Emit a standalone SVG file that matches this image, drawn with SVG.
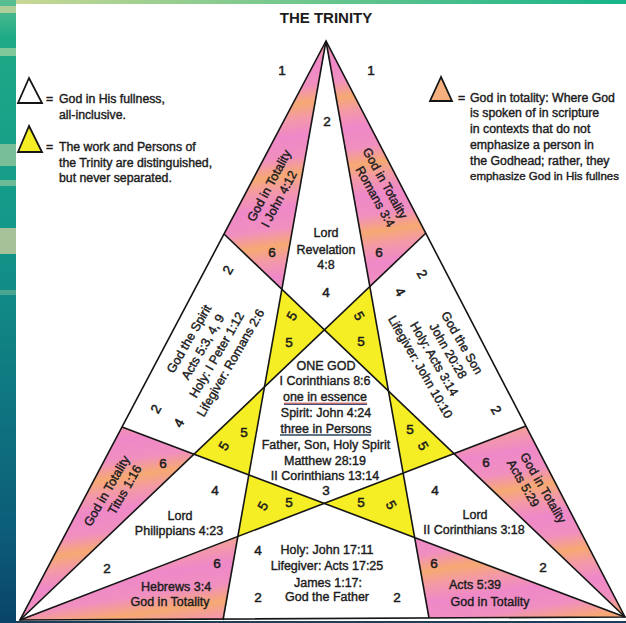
<svg xmlns="http://www.w3.org/2000/svg" width="626" height="623" viewBox="0 0 626 623">
<defs>
<linearGradient id="pinkGrad" gradientUnits="userSpaceOnUse" x1="0" y1="40" x2="10" y2="108" spreadMethod="repeat">
<stop offset="0" stop-color="#ef88c8"/>
<stop offset="0.3" stop-color="#f08fc0"/>
<stop offset="0.55" stop-color="#f6a972"/>
<stop offset="0.75" stop-color="#f39aa6"/>
<stop offset="1" stop-color="#ef88c8"/>
</linearGradient>
<linearGradient id="bgLeft" x1="0" y1="0" x2="0" y2="1">
<stop offset="0" stop-color="#5cbf93"/>
<stop offset="0.06" stop-color="#1faa86"/>
<stop offset="0.35" stop-color="#14998a"/>
<stop offset="0.6" stop-color="#0f7b82"/>
<stop offset="0.85" stop-color="#0c5d78"/>
<stop offset="1" stop-color="#0a4468"/>
</linearGradient>
<linearGradient id="bgTop" x1="0" y1="0" x2="1" y2="0">
<stop offset="0" stop-color="#c9d894"/>
<stop offset="0.4" stop-color="#7cc98e"/>
<stop offset="1" stop-color="#16b48a"/>
</linearGradient>
</defs>
<style>
.pink{fill:url(#pinkGrad)}
.yel{fill:#f6ee24}
.wht{fill:#ffffff}
.ln{stroke:#151515;stroke-width:1.6;fill:none;stroke-linejoin:miter}
.leg{stroke:#151515;stroke-width:1.8;stroke-linejoin:miter}
text{font-family:"Liberation Sans",Arial,Helvetica,sans-serif;fill:#1c1c1c;dominant-baseline:central}
.t{font-size:12.5px;text-anchor:middle;stroke:#1c1c1c;stroke-width:0.4}
.n{font-size:13.5px;text-anchor:middle;stroke:#1c1c1c;stroke-width:0.5}
.lg{font-size:12.3px;text-anchor:start;stroke:#1c1c1c;stroke-width:0.4}
.ttl{font-size:15px;font-weight:bold;text-anchor:middle}
</style>

<!-- background -->
<rect x="0" y="0" width="626" height="623" fill="#ffffff"/>
<rect x="0" y="0" width="16" height="623" fill="url(#bgLeft)"/>
<rect x="0" y="6" width="16" height="7" fill="#c8d49a" opacity="0.8"/>
<rect x="0" y="48" width="16" height="8" fill="#a9d6a2" opacity="0.7"/>
<rect x="0" y="144" width="16" height="22" fill="#b9d6a4" opacity="0.6"/>
<rect x="0" y="180" width="16" height="6" fill="#a7cfa0" opacity="0.6"/>
<rect x="0" y="228" width="16" height="26" fill="#d8cf9e" opacity="0.75"/>
<rect x="0" y="290" width="16" height="5" fill="#6fb79a" opacity="0.6"/>
<rect x="16" y="0" width="610" height="4" fill="url(#bgTop)"/>
<rect x="16" y="621" width="610" height="2" fill="#1d3f5a"/>

<text class="ttl" x="326" y="17">THE TRINITY</text>

<!-- legend -->
<g id="legend-fullness">
<polygon class="leg" points="29,78 18,103 42,103" fill="#ffffff"/>
<text class="lg" x="46" y="99">=</text>
<text class="lg" x="59" y="99">God in His fullness,</text>
<text class="lg" x="59" y="115">all-inclusive.</text>
</g>
<g id="legend-work">
<polygon class="leg" points="29,126 18,152 42,152" fill="#f6ee24"/>
<text class="lg" x="46" y="147">=</text>
<text class="lg" x="59" y="147">The work and Persons of</text>
<text class="lg" x="59" y="163">the Trinity are distinguished,</text>
<text class="lg" x="59" y="178">but never separated.</text>
</g>
<g id="legend-totality">
<polygon class="leg" points="441,77 430,101 452,101" fill="#f5b07e"/>
<text class="lg" x="458" y="98">=</text>
<text class="lg" x="470" y="98">God in totality:  Where God</text>
<text class="lg" x="470" y="113">is spoken of in scripture</text>
<text class="lg" x="470" y="129">in contexts that do not</text>
<text class="lg" x="470" y="145">emphasize a person in</text>
<text class="lg" x="470" y="161">the Godhead; rather, they</text>
<text class="lg" x="470" y="176" style="font-size:11.5px">emphasize God in His fullnes</text>
</g>

<!-- regions -->
<g id="top-lord">
<polygon class="wht" points="326,41 370,287 324,330 282,289"/>
<text class="n" x="282" y="70">1</text>
<text class="n" x="371" y="70">1</text>
<text class="n" x="327" y="121">2</text>
<text class="t" x="326" y="233">Lord</text>
<text class="t" x="326" y="250">Revelation</text>
<text class="t" x="326" y="265">4:8</text>
<text class="n" x="326" y="292">4</text>
</g>
<g id="spirit">
<polygon class="wht" points="224,234 282,289 264,387 194,454 122,427"/>
<g transform="translate(210,351) rotate(-60)">
<text class="t" x="0" y="-24">God the Spirit</text>
<text class="t" x="0" y="-8">Acts 5:3, 4, 9</text>
<text class="t" x="0" y="8">Holy:  I Peter 1:12</text>
<text class="t" x="0" y="24">Lifegiver:  Romans 2:6</text>
</g>
<text class="n" transform="translate(228,270) rotate(-60)">2</text>
<text class="n" transform="translate(156,409) rotate(-60)">2</text>
<text class="n" transform="translate(179,423) rotate(-60)">4</text>
</g>
<g id="son">
<polygon class="wht" points="426,233 526,426 454,454 388,391 370,287"/>
<g transform="translate(441,355) rotate(60)">
<text class="t" x="0" y="-24">God the Son</text>
<text class="t" x="0" y="-8">John 20:28</text>
<text class="t" x="0" y="8">Holy:  Acts 3:14</text>
<text class="t" x="0" y="24">Lifegiver:  John 10:10</text>
</g>
<text class="n" transform="translate(422,274) rotate(60)">2</text>
<text class="n" transform="translate(400,292) rotate(60)">4</text>
<text class="n" transform="translate(496,410) rotate(60)">2</text>
</g>
<g id="one-god">
<polygon class="wht" points="324,330 388,391 403,473 324,503 249,475 264,387"/>
<text class="t" x="326" y="366">ONE GOD</text>
<text class="t" x="325" y="381">I Corinthians 8:6</text>
<text class="t" x="325" y="397">one in essence</text>
<line x1="284" y1="403.2" x2="367" y2="403.2" stroke="#c0392b" stroke-width="1"/>
<line x1="284" y1="404.4" x2="367" y2="404.4" stroke="#2b3a70" stroke-width="1"/>
<text class="t" x="326" y="413">Spirit:  John 4:24</text>
<text class="t" x="326" y="429">three in Persons</text>
<line x1="280" y1="435" x2="371" y2="435" stroke="#2a4860" stroke-width="1.4"/>
<text class="t" x="326" y="445">Father, Son, Holy Spirit</text>
<text class="t" x="325" y="461">Matthew 28:19</text>
<text class="t" x="325" y="476">II Corinthians 13:14</text>
<text class="n" x="326" y="490">3</text>
</g>
<g id="phil">
<polygon class="wht" points="20,620 194,454 249,475 238,537"/>
<text class="n" x="215" y="490">4</text>
<text class="t" x="180" y="516">Lord</text>
<text class="t" x="179" y="531">Philippians 4:23</text>
<text class="n" x="107" y="568">2</text>
</g>
<g id="cor">
<polygon class="wht" points="625,617 454,454 403,473 415,538"/>
<text class="n" x="435" y="490">4</text>
<text class="t" x="475" y="515">Lord</text>
<text class="t" x="474" y="530">II Corinthians 3:18</text>
<text class="n" x="543" y="567">2</text>
</g>
<g id="father">
<polygon class="wht" points="223,620 238,537 324,503 415,538 429,618"/>
<text class="n" x="258" y="550">4</text>
<text class="t" x="327" y="550">Holy:  John 17:11</text>
<text class="t" x="327" y="566">Lifegiver:  Acts 17:25</text>
<text class="t" x="328" y="583">James 1:17:</text>
<text class="t" x="327" y="597">God the Father</text>
<text class="n" x="258" y="597">2</text>
<text class="n" x="397" y="597">2</text>
</g>

<g id="totality-1john">
<polygon class="pink" points="326,41 224,234 282,289"/>
<g transform="translate(274.5,192) rotate(-62)">
<text class="t" x="3" y="-7.5">God in Totality</text>
<text class="t" x="-4" y="7.5">I John 4:12</text>
</g>
<text class="n" x="272" y="252">6</text>
</g>
<g id="totality-romans">
<polygon class="pink" points="326,41 426,233 370,287"/>
<g transform="translate(380,190) rotate(61)">
<text class="t" x="-3.5" y="-7.5">God in Totality</text>
<text class="t" x="3.5" y="7.5">Romans 3:4</text>
</g>
<text class="n" x="379" y="252">6</text>
</g>
<g id="totality-titus">
<polygon class="pink" points="122,427 20,620 194,454"/>
<g transform="translate(115.5,491.3) rotate(-60)">
<text class="t" x="-4" y="-7.5">God in Totality</text>
<text class="t" x="6" y="7.5">Titus 1:16</text>
</g>
<text class="n" x="163" y="463">6</text>
</g>
<g id="totality-hebrews">
<polygon class="pink" points="20,620 223,620 238,537"/>
<text class="n" x="217" y="563">6</text>
<text class="t" x="176" y="587">Hebrews 3:4</text>
<text class="t" x="170" y="602">God in Totality</text>
</g>
<g id="totality-acts529">
<polygon class="pink" points="526,426 625,617 454,454"/>
<text class="n" x="486" y="462">6</text>
<g transform="translate(533,485.7) rotate(60)">
<text class="t" x="7" y="-7.5">God in Totality</text>
<text class="t" x="-7" y="7.5">Acts 5:29</text>
</g>
</g>
<g id="totality-acts539">
<polygon class="pink" points="429,618 625,617 415,538"/>
<text class="n" x="434" y="563">6</text>
<text class="t" x="475" y="585">Acts 5:39</text>
<text class="t" x="490" y="602">God in Totality</text>
</g>

<g id="work-tl">
<polygon class="yel" points="282,289 324,330 264,387"/>
<text class="n" transform="translate(292,316) rotate(-60)">5</text>
<text class="n" x="289" y="342">5</text>
</g>
<g id="work-tr">
<polygon class="yel" points="370,287 324,330 388,391"/>
<text class="n" transform="translate(359,316) rotate(60)">5</text>
<text class="n" x="361" y="341">5</text>
</g>
<g id="work-l">
<polygon class="yel" points="264,387 194,454 249,475"/>
<text class="n" x="244" y="432">5</text>
<text class="n" transform="translate(224,446) rotate(-60)">5</text>
</g>
<g id="work-r">
<polygon class="yel" points="388,391 454,454 403,473"/>
<text class="n" x="410" y="429">5</text>
<text class="n" transform="translate(423,446) rotate(60)">5</text>
</g>
<g id="work-bl">
<polygon class="yel" points="249,475 324,503 238,537"/>
<text class="n" transform="translate(263,506) rotate(-60)">5</text>
<text class="n" x="289" y="502">5</text>
</g>
<g id="work-br">
<polygon class="yel" points="403,473 324,503 415,538"/>
<text class="n" x="361" y="502">5</text>
<text class="n" transform="translate(391,505) rotate(60)">5</text>
</g>

<!-- connectors -->
<g id="connectors" class="ln">
<polygon points="326,41 20,620 625,617"/>
<line x1="326" y1="41" x2="223" y2="620"/>
<line x1="326" y1="41" x2="429" y2="618"/>
<line x1="20" y1="620" x2="426" y2="233"/>
<line x1="20" y1="620" x2="526" y2="426"/>
<line x1="625" y1="617" x2="224" y2="234"/>
<line x1="625" y1="617" x2="122" y2="427"/>
</g>
</svg>
